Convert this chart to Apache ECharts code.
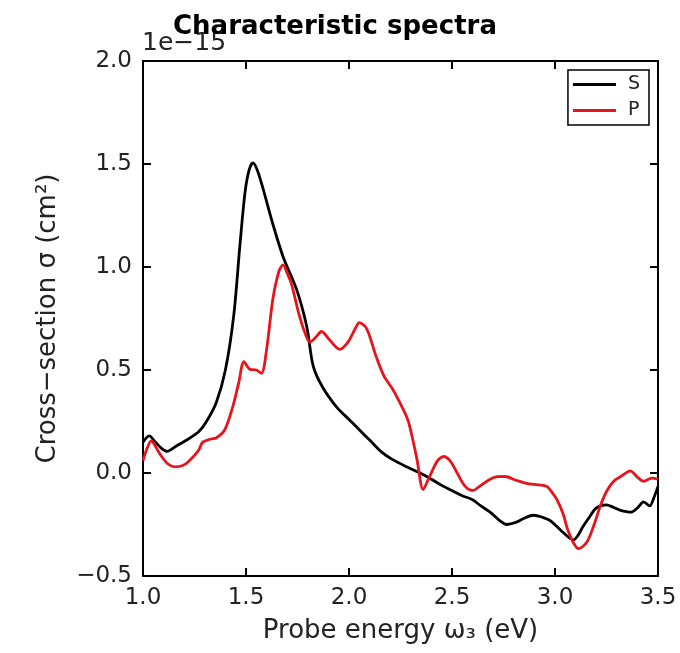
<!DOCTYPE html>
<html>
<head>
<meta charset="utf-8">
<script src="https://cdn.jsdelivr.net/npm/echarts@6/dist/echarts.min.js"></script>
<style>html,body{margin:0;padding:0;background:#fff;}#c{width:680px;height:653px;}</style>
</head>
<body>
<div id="c"></div>
<script>
// Energies (eV) and cross-sections (x1e-15 cm^2)
var sEnergy = [1.00,1.03,1.06,1.09,1.117,1.16,1.22,1.27,1.305,1.355,1.40,1.44,1.47,1.495,1.515,1.534,1.555,1.58,1.63,1.68,1.746,1.795,1.826,1.87,1.94,2.00,2.05,2.10,2.16,2.21,2.28,2.345,2.40,2.45,2.50,2.55,2.60,2.64,2.685,2.73,2.765,2.81,2.85,2.895,2.94,2.975,3.03,3.07,3.09,3.11,3.136,3.17,3.20,3.25,3.28,3.315,3.37,3.40,3.43,3.46,3.48,3.50];
var sValues = [0.15,0.18,0.15,0.12,0.105,0.13,0.165,0.20,0.245,0.34,0.50,0.76,1.10,1.36,1.47,1.505,1.47,1.39,1.21,1.05,0.89,0.71,0.52,0.42,0.32,0.26,0.21,0.16,0.10,0.066,0.03,0.0,-0.03,-0.06,-0.085,-0.11,-0.13,-0.16,-0.19,-0.23,-0.25,-0.24,-0.22,-0.205,-0.215,-0.23,-0.28,-0.315,-0.325,-0.305,-0.26,-0.21,-0.17,-0.155,-0.165,-0.18,-0.19,-0.17,-0.14,-0.16,-0.12,-0.065];
var pEnergy = [1.00,1.02,1.04,1.06,1.087,1.12,1.154,1.19,1.22,1.27,1.29,1.33,1.355,1.397,1.437,1.465,1.49,1.52,1.55,1.575,1.60,1.63,1.66,1.68,1.70,1.72,1.76,1.79,1.81,1.84,1.866,1.905,1.955,1.995,2.03,2.05,2.08,2.10,2.13,2.17,2.21,2.24,2.285,2.31,2.33,2.36,2.39,2.43,2.46,2.49,2.52,2.56,2.60,2.64,2.685,2.72,2.757,2.81,2.86,2.92,2.96,2.99,3.01,3.04,3.06,3.09,3.115,3.155,3.19,3.22,3.25,3.285,3.33,3.365,3.40,3.43,3.47,3.50];
var pValues = [0.06,0.12,0.156,0.13,0.085,0.045,0.03,0.035,0.055,0.11,0.15,0.165,0.17,0.21,0.326,0.44,0.54,0.503,0.50,0.484,0.60,0.842,0.98,1.01,0.97,0.92,0.76,0.67,0.635,0.66,0.687,0.647,0.60,0.635,0.70,0.73,0.71,0.665,0.57,0.47,0.41,0.355,0.26,0.16,0.066,-0.08,-0.02,0.06,0.08,0.06,0.01,-0.06,-0.085,-0.06,-0.03,-0.018,-0.017,-0.035,-0.05,-0.058,-0.065,-0.10,-0.13,-0.20,-0.27,-0.34,-0.367,-0.335,-0.25,-0.16,-0.09,-0.04,-0.01,0.01,-0.02,-0.04,-0.025,-0.03];
var seriesNames = ['S','P'];
var xTicks = [1.0,1.5,2.0,2.5,3.0,3.5];
var yTicks = [-0.5,0.0,0.5,1.0,1.5,2.0];

function pairs(xs, ys){ return xs.map(function(x,i){ return [x, ys[i]]; }); }
function fmt(v){ return (v < 0 ? '\u2212' : '') + Math.abs(v).toFixed(1); }

var FONT = 'DejaVu Sans';
var chart = echarts.init(document.getElementById('c'), null, {renderer:'canvas'});
var tickCommon = {show:true, inside:true, length:8, lineStyle:{color:'#000', width:2}};
var lineCommon = {show:true, onZero:false, lineStyle:{color:'#000', width:2}};
chart.setOption({
  animation:false,
  backgroundColor:'#fff',
  title:{text:'Characteristic spectra', left:168, top:9,
    textStyle:{fontFamily:FONT, fontWeight:'bold', fontSize:26, color:'#000'}},
  graphic:[{type:'text', left:142, top:31,
    style:{text:'1e\u221215', font:'25px "DejaVu Sans"', fill:'#222'}}],
  legend:{orient:'vertical', right:31, top:70, data:seriesNames,
    icon:'rect', itemWidth:43, itemHeight:3, itemGap:7,
    padding:[5,9,5,5], borderColor:'#000', borderWidth:1.5,
    textStyle:{fontFamily:FONT, fontSize:19, color:'#222', padding:[0,0,0,7]}},
  grid:{left:143, right:22, top:61, bottom:77, containLabel:false},
  xAxis:[{type:'value', min:1.0, max:3.5, interval:0.5, position:'bottom',
      name:'Probe energy \u03c9\u2083 (eV)', nameLocation:'middle', nameGap:42,
      nameTextStyle:{fontFamily:FONT, fontSize:26, color:'#222'},
      axisLine:lineCommon, axisTick:tickCommon, splitLine:{show:false},
      axisLabel:{fontFamily:FONT, fontSize:23, color:'#222', margin:11, formatter:fmt}},
    {type:'value', min:1.0, max:3.5, interval:0.5, position:'top',
      axisLine:lineCommon, axisTick:tickCommon, splitLine:{show:false}, axisLabel:{show:false}}],
  yAxis:[{type:'value', min:-0.5, max:2.0, interval:0.5, position:'left',
      name:'Cross\u2212section \u03c3 (cm\u00b2)', nameLocation:'middle', nameGap:82, nameRotate:90,
      nameTextStyle:{fontFamily:FONT, fontSize:26, color:'#222'},
      axisLine:lineCommon, axisTick:tickCommon, splitLine:{show:false},
      axisLabel:{fontFamily:FONT, fontSize:23, color:'#222', margin:11, formatter:fmt}},
    {type:'value', min:-0.5, max:2.0, interval:0.5, position:'right',
      axisLine:lineCommon, axisTick:tickCommon, splitLine:{show:false}, axisLabel:{show:false}}],
  series:[
    {name:seriesNames[0], type:'line', data:pairs(sEnergy, sValues), showSymbol:false, smooth:0.3,
      lineStyle:{color:'#000', width:2.8}, itemStyle:{color:'#000'}, clip:true},
    {name:seriesNames[1], type:'line', data:pairs(pEnergy, pValues), showSymbol:false, smooth:0.3,
      lineStyle:{color:'#e8141c', width:2.8}, itemStyle:{color:'#e8141c'}, clip:true}
  ]
});
</script>
</body>
</html>
